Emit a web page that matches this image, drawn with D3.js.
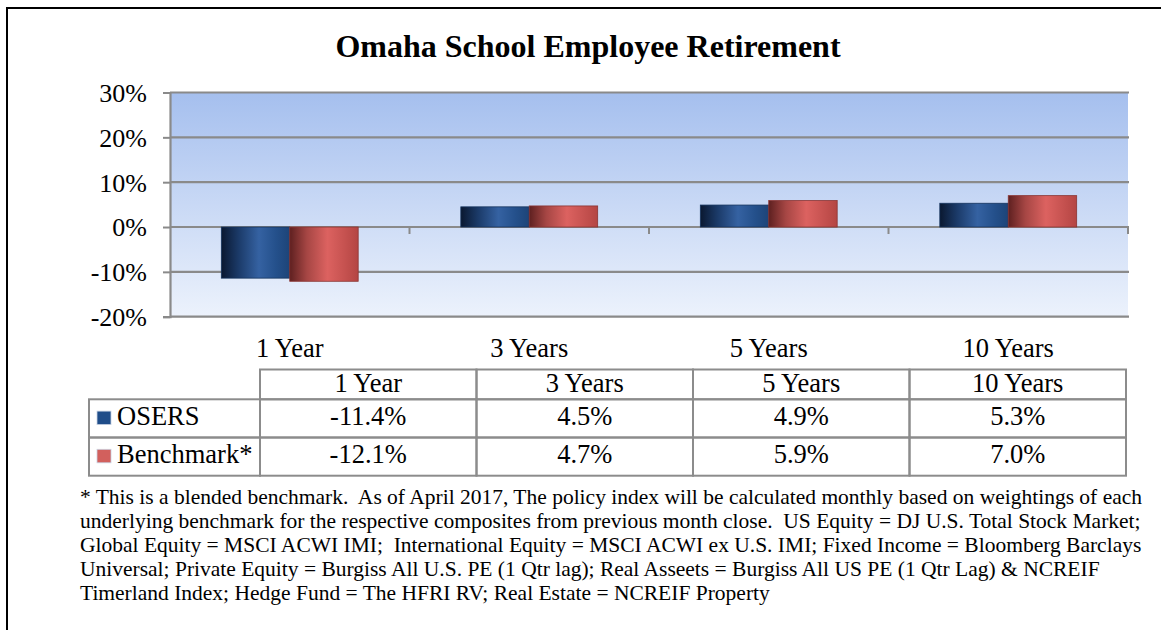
<!DOCTYPE html>
<html>
<head>
<meta charset="utf-8">
<script src="https://cdn.jsdelivr.net/npm/d3@7"></script>
<style>
  html, body { margin: 0; padding: 0; background: #fff; }
  svg { display: block; font-family: "Liberation Serif", "Times New Roman", serif; }
</style>
</head>
<body>
<div id="chart"></div>
<script>
var categories = ["1 Year", "3 Years", "5 Years", "10 Years"];
var seriesNames = ["OSERS", "Benchmark*"];
var osers = [-11.4, 4.5, 4.9, 5.3];
var benchmark = [-12.1, 4.7, 5.9, 7.0];
var yTicks = [-20, -10, 0, 10, 20, 30];
var footnoteLines = [
    "* This is a blended benchmark.  As of April 2017, The policy index will be calculated monthly based on weightings of each",
    "underlying benchmark for the respective composites from previous month close.  US Equity = DJ U.S. Total Stock Market;",
    "Global Equity = MSCI ACWI IMI;  International Equity = MSCI ACWI ex U.S. IMI; Fixed Income = Bloomberg Barclays",
    "Universal; Private Equity = Burgiss All U.S. PE (1 Qtr lag); Real Asseets = Burgiss All US PE (1 Qtr Lag) & NCREIF",
    "Timerland Index; Hedge Fund = The HFRI RV; Real Estate = NCREIF Property"
];

var W = 1161, H = 630;
var plot = {left: 170, right: 1128, top: 92.5, bottom: 316.7};
var gridColor = "#8a8a8a";

var svg = d3.select("#chart").append("svg")
    .attr("width", W)
    .attr("height", H);

var defs = svg.append("defs");

var bg = defs.append("linearGradient").attr("id", "bgGrad")
    .attr("x1", 0).attr("y1", 0).attr("x2", 0).attr("y2", 1);
bg.append("stop").attr("offset", "0%").attr("stop-color", "#a5bfee");
bg.append("stop").attr("offset", "100%").attr("stop-color", "#ecf2fc");

function barGradient(id, stops) {
    var g = defs.append("linearGradient").attr("id", id)
        .attr("x1", 0).attr("y1", 0).attr("x2", 1).attr("y2", 0);
    stops.forEach(function(s) {
        g.append("stop").attr("offset", s[0]).attr("stop-color", s[1]);
    });
}
barGradient("blueGrad", [["0%", "#0a1830"], ["25%", "#1b3a68"], ["55%", "#3562a2"], ["80%", "#24508b"], ["100%", "#1d4478"]]);
barGradient("redGrad", [["0%", "#5e2020"], ["25%", "#a64644"], ["55%", "#dc6260"], ["80%", "#c65250"], ["100%", "#b44543"]]);

var fills = ["url(#blueGrad)", "url(#redGrad)"];
var strokes = ["#16345e", "#8a3432"];
var swatch = ["#1f4d89", "#d2605d"];

// outer frame
svg.append("path")
    .attr("d", "M7,630 L7,8 L1161,8")
    .attr("fill", "none")
    .attr("stroke", "#000")
    .attr("stroke-width", 2);

// title
svg.append("text")
    .attr("x", 588)
    .attr("y", 57)
    .attr("text-anchor", "middle")
    .style("font-size", "32px")
    .style("font-weight", "bold")
    .text("Omaha School Employee Retirement");

var x = d3.scaleBand()
    .domain(categories)
    .range([plot.left, plot.right])
    .paddingInner(0)
    .paddingOuter(0);

var y = d3.scaleLinear()
    .domain([-20, 30])
    .range([plot.bottom, plot.top]);

// gap width 150%
var barW = x.bandwidth() / 3.5;

// background
svg.append("rect")
    .attr("x", plot.left)
    .attr("y", plot.top)
    .attr("width", plot.right - plot.left)
    .attr("height", plot.bottom - plot.top)
    .attr("fill", "url(#bgGrad)");

// gridlines
svg.append("g")
    .selectAll("line")
    .data(yTicks)
    .enter().append("line")
    .attr("x1", plot.left)
    .attr("x2", plot.right + 1)
    .attr("y1", function(d) { return y(d); })
    .attr("y2", function(d) { return y(d); })
    .attr("stroke", gridColor)
    .attr("stroke-width", 2.2);

// y axis
var yAxis = svg.append("g")
    .attr("transform", "translate(" + plot.left + ",0)")
    .call(d3.axisLeft(y).tickValues(yTicks).tickSize(7).tickPadding(16)
        .tickFormat(function(d) { return d + "%"; }));
yAxis.select(".domain").attr("stroke", gridColor).attr("stroke-width", 2.2);
yAxis.selectAll(".tick line").attr("stroke", gridColor).attr("stroke-width", 2);
yAxis.selectAll(".tick text")
    .style("font-family", "Liberation Serif, Times New Roman, serif")
    .style("font-size", "26px")
    .attr("fill", "#000")
    .attr("dy", "0.34em");

// category ticks on the zero line
svg.append("g")
    .selectAll("line")
    .data(categories)
    .enter().append("line")
    .attr("x1", function(d) { return x(d) + x.bandwidth(); })
    .attr("x2", function(d) { return x(d) + x.bandwidth(); })
    .attr("y1", y(0))
    .attr("y2", y(0) + 7)
    .attr("stroke", gridColor)
    .attr("stroke-width", 2);

// bars
var seriesData = [osers, benchmark];
var groups = svg.append("g").selectAll("g")
    .data(seriesData)
    .enter().append("g");

groups.each(function(vals, si) {
    d3.select(this).selectAll("rect")
        .data(vals)
        .enter().append("rect")
        .attr("x", function(d, i) {
            return x(categories[i]) + x.bandwidth() / 2 - barW + si * barW;
        })
        .attr("y", function(d) { return Math.min(y(d), y(0)); })
        .attr("width", barW)
        .attr("height", function(d) { return Math.abs(y(d) - y(0)); })
        .attr("fill", fills[si])
        .attr("stroke", strokes[si])
        .attr("stroke-width", 0.8);
});

// category labels
svg.append("g")
    .selectAll("text")
    .data(categories)
    .enter().append("text")
    .attr("x", function(d) { return x(d) + x.bandwidth() / 2; })
    .attr("y", 357)
    .attr("text-anchor", "middle")
    .style("font-size", "26.5px")
    .text(function(d) { return d; });

// data table
var tableTop = 369.5, headH = 29.8, rowH = 38.2;
var labelLeft = 89, colW = 216.5;
var tableColor = "#8c8c8c";
var colX = function(i) { return 260 + i * colW; };
var tbl = svg.append("g");

tbl.selectAll(".hcell")
    .data(categories)
    .enter().append("rect")
    .attr("class", "hcell")
    .attr("x", function(d, i) { return colX(i); })
    .attr("y", tableTop)
    .attr("width", colW)
    .attr("height", headH)
    .attr("fill", "none")
    .attr("stroke", tableColor)
    .attr("stroke-width", 2);

tbl.selectAll(".htext")
    .data(categories)
    .enter().append("text")
    .attr("x", function(d, i) { return colX(i) + colW / 2; })
    .attr("y", tableTop + 22.5)
    .attr("text-anchor", "middle")
    .style("font-size", "26.5px")
    .text(function(d) { return d; });

seriesNames.forEach(function(name, si) {
    var ry = tableTop + headH + si * rowH;
    tbl.append("rect")
        .attr("x", labelLeft)
        .attr("y", ry)
        .attr("width", 260 - labelLeft)
        .attr("height", rowH)
        .attr("fill", "none")
        .attr("stroke", tableColor)
        .attr("stroke-width", 2);
    tbl.append("rect")
        .attr("x", 97)
        .attr("y", ry + 11.8)
        .attr("width", 14)
        .attr("height", 13.5)
        .attr("fill", swatch[si])
        .attr("stroke", "#c9d3e3")
        .attr("stroke-width", 0.8);
    tbl.append("text")
        .attr("x", 117)
        .attr("y", ry + 25.8)
        .style("font-size", "26.5px")
        .text(name);
    tbl.selectAll(".v" + si)
        .data(seriesData[si])
        .enter().append("rect")
        .attr("x", function(d, i) { return colX(i); })
        .attr("y", ry)
        .attr("width", colW)
        .attr("height", rowH)
        .attr("fill", "none")
        .attr("stroke", tableColor)
        .attr("stroke-width", 2);
    tbl.selectAll(".t" + si)
        .data(seriesData[si])
        .enter().append("text")
        .attr("x", function(d, i) { return colX(i) + colW / 2; })
        .attr("y", ry + 25.8)
        .attr("text-anchor", "middle")
        .style("font-size", "26.5px")
        .text(function(d) { return d.toFixed(1) + "%"; });
});

// footnote
svg.append("g")
    .selectAll("text")
    .data(footnoteLines)
    .enter().append("text")
    .attr("x", 80)
    .attr("y", function(d, i) { return 504 + i * 24; })
    .style("font-size", "21.5px")
    .style("white-space", "pre")
    .text(function(d) { return d; });
</script>
</body>
</html>
